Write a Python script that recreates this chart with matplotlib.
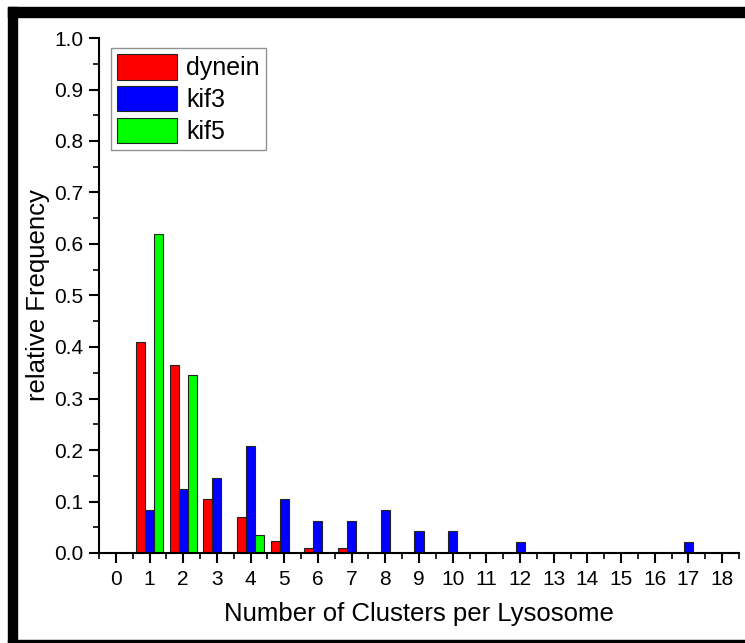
import numpy as np
import matplotlib.pyplot as plt
from matplotlib.patches import Rectangle
from matplotlib.ticker import MultipleLocator

plt.rcParams['font.family'] = ['Liberation Sans', 'DejaVu Sans']

# Dados
clusters = np.arange(1, 18)
dynein = [0.41, 0.365, 0.105, 0.07, 0.023, 0.01, 0.01, 0, 0, 0, 0, 0, 0, 0, 0, 0, 0]
kif3 = [0.083, 0.125, 0.145, 0.208, 0.104, 0.062, 0.062, 0.083, 0.042, 0.042,
        0, 0.021, 0, 0, 0, 0, 0.021]
kif5 = [0.62, 0.345, 0, 0.034, 0, 0, 0, 0, 0, 0, 0, 0, 0, 0, 0, 0, 0]
labels = ["dynein", "kif3", "kif5"]
cores = ["#ff0000", "#0000ff", "#00ff00"]

w = 0.27

fig = plt.figure(figsize=(7.45, 6.43), dpi=100)
ax = fig.add_axes([99/745, 90/643, 640/745, 515/643])

for i, (serie, lab, cor) in enumerate(zip([dynein, kif3, kif5], labels, cores)):
    vals = np.array(serie)
    mask = vals > 0
    ax.bar(clusters[mask] + (i - 1)*w, vals[mask], width=w, color=cor,
           edgecolor='#222222', linewidth=0.8, label=lab)

ax.set_xlim(-0.5, 18.5)
ax.set_ylim(0, 1.0)
ax.xaxis.set_major_locator(MultipleLocator(1))
ax.xaxis.set_minor_locator(MultipleLocator(0.5))
ax.yaxis.set_major_locator(MultipleLocator(0.1))
ax.yaxis.set_minor_locator(MultipleLocator(0.05))
ax.yaxis.set_major_formatter(plt.FormatStrFormatter('%.1f'))

for s in ['top', 'right']:
    ax.spines[s].set_visible(False)
for s in ['left', 'bottom']:
    ax.spines[s].set_linewidth(1.5)

ax.tick_params(which='major', direction='out', length=7.5, width=1.5, labelsize=15)
ax.tick_params(which='minor', direction='out', length=4.5, width=1.2)
ax.tick_params(axis='x', pad=5)
ax.tick_params(axis='y', pad=4)

ax.set_xlabel("Number of Clusters per Lysosome", fontsize=18.5, labelpad=9)
ax.set_ylabel("relative Frequency", fontsize=18.5, labelpad=3)

leg = ax.legend(loc='upper left', bbox_to_anchor=(0.019, 0.981), fontsize=18,
                frameon=True, fancybox=False, handlelength=2.4, handleheight=1.2,
                handletextpad=0.35, labelspacing=0.22, borderpad=0.25, borderaxespad=0)
leg.get_frame().set_edgecolor('#777777')
leg.get_frame().set_linewidth(1.0)

# Moldura preta da imagem
fig.patches.append(Rectangle((8/745, 1 - 17/643), 737/745, 10/643,
                             transform=fig.transFigure, color='black'))
fig.patches.append(Rectangle((8/745, 0), 9/745, 1 - 7/643,
                             transform=fig.transFigure, color='black'))
fig.patches.append(Rectangle((8/745, 1.5/643), 737/745, 2/643,
                             transform=fig.transFigure, color='black'))

plt.savefig("out.png", dpi=100)
